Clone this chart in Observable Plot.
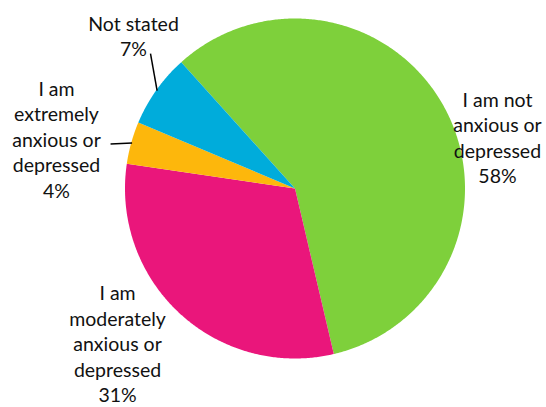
<!DOCTYPE html>
<html>
<head>
<meta charset="utf-8">
<script src="https://cdn.jsdelivr.net/npm/d3@7"></script>
<script src="https://cdn.jsdelivr.net/npm/@observablehq/plot@0.6"></script>
<style>
  html, body { margin: 0; padding: 0; background: #fff; }
  #chart svg { display: block; }
</style>
</head>
<body>
<div id="chart"></div>
<script>
// ---- data ----
const categories = [
  "I am not anxious or depressed",
  "I am moderately anxious or depressed",
  "I am extremely anxious or depressed",
  "Not stated"
];
const values = [58, 31, 4, 7];
const labelTexts = [
  "I am not\nanxious or\ndepressed\n58%",
  "I am\nmoderately\nanxious or\ndepressed\n31%",
  "I am\nextremely\nanxious or\ndepressed\n4%",
  "Not stated\n7%"
];
const colors = ["#7ED03B", "#EA167B", "#FDB70C", "#00ACDB"];

// ---- layout (unit-circle coordinates) ----
const startDeg = -42;
const labelAnchors = [[1.191, 0.303], [-1.044, -0.910], [-1.403, 0.294], [-0.950, 0.900]];
const leaderEnds = [null, null, [-1.085, 0.262], [-0.850, 0.794]];

const toXY = (a, r = 1) => [r * Math.sin(a), r * Math.cos(a)];
const rows = categories.map((c, i) => ({category: c, value: values[i], label: labelTexts[i], i}));
const arcs = d3.pie().sort(null).value(d => d.value)
  .startAngle(startDeg * Math.PI / 180)
  .endAngle((startDeg + 360) * Math.PI / 180)(rows);

const slices = arcs.map(a => {
  const ring = [[0, 0]];
  const n = Math.max(2, Math.ceil((a.endAngle - a.startAngle) / (Math.PI / 360)));
  for (let k = 0; k <= n; k++) ring.push(toXY(a.startAngle + (a.endAngle - a.startAngle) * k / n));
  ring.push([0, 0]);
  return {type: "Feature", properties: {category: a.data.category}, geometry: {type: "Polygon", coordinates: [ring.reverse()]}};
});

const labels = rows.map((d, i) => ({label: d.label, x: labelAnchors[i][0], y: labelAnchors[i][1]}));
const leaders = arcs.filter((a, i) => leaderEnds[i]).map(a => {
  const mid = (a.startAngle + a.endAngle) / 2;
  const [x1, y1] = toXY(mid, 0.995);
  const [x2, y2] = leaderEnds[a.data.i];
  return {x1, y1, x2, y2};
});

const frame = {type: "Polygon", coordinates: [[[-1, -1], [-1, 1], [1, 1], [1, -1], [-1, -1]]]};

const chart = Plot.plot({
  width: 546,
  height: 407,
  marginLeft: 124.5,
  marginRight: 81.5,
  marginTop: 18,
  marginBottom: 49,
  projection: {type: "reflect-y", domain: frame, inset: 0, clip: false},
  color: {domain: categories, range: colors},
  style: {fontFamily: "Lato, 'Open Sans', sans-serif", background: "#fff"},
  marks: [
    Plot.geo(slices, {fill: d => d.properties.category, stroke: "none"}),
    Plot.link(leaders, {x1: "x1", y1: "y1", x2: "x2", y2: "y2", stroke: "#000", strokeWidth: 1.5, clip: false}),
    Plot.text(labels, {x: "x", y: "y", text: "label", fontSize: 19.5, lineHeight: 1.31, fill: "#111", textAnchor: "middle", lineAnchor: "middle", clip: false})
  ]
});
document.getElementById("chart").appendChild(chart);
</script>
</body>
</html>
